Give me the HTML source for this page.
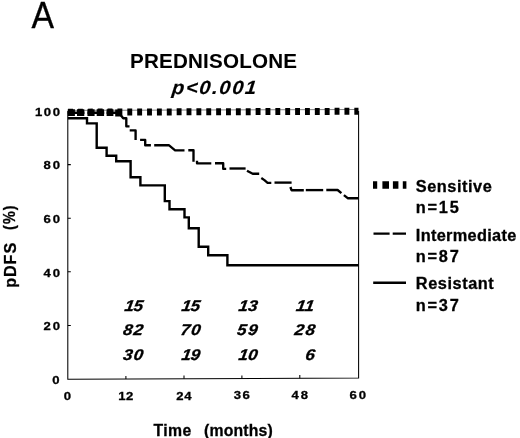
<!DOCTYPE html>
<html><head><meta charset="utf-8">
<style>
html,body{margin:0;padding:0;background:#fff;}
svg{display:block;}
text{font-family:"Liberation Sans",sans-serif;fill:#000;}
.r{font-weight:normal;}
.b{font-weight:bold;}
.bi{font-weight:bold;font-style:italic;}
</style></head><body>
<svg width="520" height="438" viewBox="0 0 520 438">
<rect width="520" height="438" fill="#fff"/>
<defs><filter id="soft" x="0" y="0" width="520" height="438" filterUnits="userSpaceOnUse"><feGaussianBlur stdDeviation="0.45"/></filter></defs>
<g filter="url(#soft)">
<text class="r" transform="translate(31.60 27.80) scale(0.965 1.075)" font-size="35" stroke="#000" stroke-width="0.30">A</text>
<text class="b" transform="translate(130.00 68.30) scale(1.030 1.000)" font-size="20" textLength="162.14" lengthAdjust="spacing" stroke="#000" stroke-width="0.05">PREDNISOLONE</text>
<text class="bi" transform="translate(171.60 94.20) scale(1.180 1.120) skewX(-6)" font-size="17" textLength="71.19" lengthAdjust="spacing" stroke="#000" stroke-width="0.15">p&lt;0.001</text>
</g>
<g fill="none" stroke="#000" stroke-width="1.05">
<path d="M67.8 111 V379.3 L358.6 378.1 V111"/>
<path d="M67.8 164.6 h3 M67.8 218.2 h3 M67.8 271.8 h3 M67.8 325.4 h3"/>
<path d="M125.9 379.1 v-3.2 M184 378.8 v-3.2 M241.9 378.6 v-3.2 M299.8 378.3 v-3.2"/>
</g>
<path d="M67.8 110.4 L358.1 109.5" fill="none" stroke="#000" stroke-width="0.7" opacity="0.7"/>
<g filter="url(#soft)">
<path d="M68.1 112.2 L358.5 111.3" fill="none" stroke="#000" stroke-width="7" stroke-dasharray="4.9 4.97"/>
<g fill="none" stroke="#000" stroke-width="2.35" stroke-linejoin="round" stroke-linecap="butt">
<path d="M67.8 112.8 H84.4 M87.5 112.8 H104.2 M106.6 112.8 H121" stroke-width="2.4" stroke-linecap="butt"/>
<path d="M67.8 112.6 H74.9 M77 112.6 H84.3 M87.5 112.6 H94.6 M96.7 112.6 H104.1 M106.6 112.6 H113.4 M115.2 113 H122" stroke-width="6.8" stroke-linecap="butt"/>
<path d="M119.5 113.5 L123.2 118.2 H126.3 V126.3 H129.5"/>
<path d="M129.7 130.4 H135.6 V140"/>
<path d="M140.1 139.9 H145.2 V145.2 H150.9"/>
<path d="M154.2 145.2 H168.8 L175.1 150.3 H184.5"/>
<path d="M188.3 150.2 H193.5 V161.8"/>
<path d="M197 160.8 V163.3 H211.3"/>
<path d="M215 163.2 H223.2 V168.8 H226.2"/>
<path d="M229.5 168.5 H245.6"/>
<path d="M247 170.7 L252.7 173.7 H259.2"/>
<path d="M261.3 178 L264.4 180.1 L267.6 182.8 H271.3"/>
<path d="M274.5 182.6 H291.6"/>
<path d="M290.4 187 L291.5 190.2 H303.8"/>
<path d="M305.8 190.1 H323.2"/>
<path d="M326.3 190 H337.6 L341.4 193.2"/>
<path d="M343.9 195.1 L347.7 198.2 H358.6"/>
</g>
<path fill="none" stroke="#000" stroke-width="2.4" stroke-linejoin="miter" d="M67.8 118.3 H87 V123.4 H96.7 V147.8 H106.6 V155.8 H116.2 V161.3 H130.6 V177.3 H140.4 V185.4 H164.8 V201.1 H169.5 V209.2 H184.5 V217.4 H188.8 V228.3 H198.7 V246.7 H208.2 V255.3 H227.4 V265.2 H358.6"/>
<text class="b" transform="translate(35.00 115.90) scale(1.140 1.000)" font-size="11.5" textLength="21.93" lengthAdjust="spacing" stroke="#000" stroke-width="0.30">100</text>
<text class="b" transform="translate(43.40 169.40) scale(1.140 1.000)" font-size="11.5" textLength="14.56" lengthAdjust="spacing" stroke="#000" stroke-width="0.30">80</text>
<text class="b" transform="translate(43.40 223.10) scale(1.140 1.000)" font-size="11.5" textLength="14.56" lengthAdjust="spacing" stroke="#000" stroke-width="0.30">60</text>
<text class="b" transform="translate(43.40 276.70) scale(1.140 1.000)" font-size="11.5" textLength="14.56" lengthAdjust="spacing" stroke="#000" stroke-width="0.30">40</text>
<text class="b" transform="translate(43.40 330.30) scale(1.140 1.000)" font-size="11.5" textLength="14.56" lengthAdjust="spacing" stroke="#000" stroke-width="0.30">20</text>
<text class="b" transform="translate(52.30 384.40) scale(1.140 1.000)" font-size="11.5" stroke="#000" stroke-width="0.30">0</text>
<text class="b" transform="translate(63.80 400.20) scale(1.140 1.000)" font-size="11.5" stroke="#000" stroke-width="0.30">0</text>
<text class="b" transform="translate(118.30 400.20) scale(1.140 1.000)" font-size="11.5" textLength="13.16" lengthAdjust="spacing" stroke="#000" stroke-width="0.30">12</text>
<text class="b" transform="translate(176.20 399.90) scale(1.140 1.000)" font-size="11.5" textLength="13.42" lengthAdjust="spacing" stroke="#000" stroke-width="0.30">24</text>
<text class="b" transform="translate(233.80 399.10) scale(1.140 1.000)" font-size="11.5" textLength="14.04" lengthAdjust="spacing" stroke="#000" stroke-width="0.30">36</text>
<text class="b" transform="translate(291.50 398.70) scale(1.140 1.000)" font-size="11.5" textLength="14.47" lengthAdjust="spacing" stroke="#000" stroke-width="0.30">48</text>
<text class="b" transform="translate(349.50 398.70) scale(1.140 1.000)" font-size="11.5" textLength="14.47" lengthAdjust="spacing" stroke="#000" stroke-width="0.30">60</text>
<text class="b" transform="translate(153.40 435.60) scale(0.930 1.000)" font-size="17" textLength="40.65" lengthAdjust="spacing" stroke="#000" stroke-width="0.30">Time</text>
<text class="b" transform="translate(204.00 435.60) scale(0.930 1.000)" font-size="17" textLength="73.98" lengthAdjust="spacing" stroke="#000" stroke-width="0.30">(months)</text>
<g transform="translate(15.9 287.8) rotate(-90)">
<text class="b" transform="translate(0.00 0.00) scale(0.950 1.000)" font-size="17" textLength="47.37" lengthAdjust="spacing" stroke="#000" stroke-width="0.30">pDFS</text>
<text class="b" transform="translate(57.80 -1.20) scale(0.900 1.000)" font-size="16" textLength="27.33" lengthAdjust="spacing" stroke="#000" stroke-width="0.30">(%)</text>
</g>
<text class="bi" transform="translate(124.00 311.10) scale(1.100 1.000) skewX(-8)" font-size="15.5" textLength="16.82" lengthAdjust="spacing" stroke="#000" stroke-width="0.30">15</text>
<text class="bi" transform="translate(122.50 335.20) scale(1.100 1.000) skewX(-8)" font-size="15.5" textLength="18.18" lengthAdjust="spacing" stroke="#000" stroke-width="0.30">82</text>
<text class="bi" transform="translate(122.50 360.20) scale(1.100 1.000) skewX(-8)" font-size="15.5" textLength="18.18" lengthAdjust="spacing" stroke="#000" stroke-width="0.30">30</text>
<text class="bi" transform="translate(181.00 311.10) scale(1.100 1.000) skewX(-8)" font-size="15.5" textLength="16.82" lengthAdjust="spacing" stroke="#000" stroke-width="0.30">15</text>
<text class="bi" transform="translate(180.00 335.20) scale(1.100 1.000) skewX(-8)" font-size="15.5" textLength="18.18" lengthAdjust="spacing" stroke="#000" stroke-width="0.30">70</text>
<text class="bi" transform="translate(181.00 360.20) scale(1.100 1.000) skewX(-8)" font-size="15.5" textLength="16.82" lengthAdjust="spacing" stroke="#000" stroke-width="0.30">19</text>
<text class="bi" transform="translate(238.00 311.10) scale(1.100 1.000) skewX(-8)" font-size="15.5" textLength="17.27" lengthAdjust="spacing" stroke="#000" stroke-width="0.30">13</text>
<text class="bi" transform="translate(236.50 335.20) scale(1.100 1.000) skewX(-8)" font-size="15.5" textLength="18.64" lengthAdjust="spacing" stroke="#000" stroke-width="0.30">59</text>
<text class="bi" transform="translate(238.00 360.20) scale(1.100 1.000) skewX(-8)" font-size="15.5" textLength="17.27" lengthAdjust="spacing" stroke="#000" stroke-width="0.30">10</text>
<text class="bi" transform="translate(295.40 311.10) scale(1.100 1.000) skewX(-8)" font-size="15.5" textLength="16.36" lengthAdjust="spacing" stroke="#000" stroke-width="0.30">11</text>
<text class="bi" transform="translate(294.00 335.20) scale(1.100 1.000) skewX(-8)" font-size="15.5" textLength="18.64" lengthAdjust="spacing" stroke="#000" stroke-width="0.30">28</text>
<text class="bi" transform="translate(304.70 360.20) scale(1.100 1.000) skewX(-8)" font-size="15.5" stroke="#000" stroke-width="0.30">6</text>
<path d="M373 185 H377.2 M382.4 185 H389 M392.9 185 H398.4 M402.8 185 H406.4" fill="none" stroke="#000" stroke-width="7.4"/>
<path d="M373.5 233.7 H389.6 M392.7 233.7 H406" fill="none" stroke="#000" stroke-width="2.3"/>
<path d="M373.2 282.7 H406" fill="none" stroke="#000" stroke-width="2.4"/>
<text class="b" transform="translate(415.80 191.70) scale(1.020 1.000)" font-size="16" textLength="74.51" lengthAdjust="spacing" stroke="#000" stroke-width="0.30">Sensitive</text>
<text class="b" transform="translate(415.80 212.90) scale(1.020 1.000)" font-size="16" textLength="42.16" lengthAdjust="spacing" stroke="#000" stroke-width="0.30">n=15</text>
<text class="b" transform="translate(415.80 240.50) scale(1.020 1.000)" font-size="16" textLength="98.53" lengthAdjust="spacing" stroke="#000" stroke-width="0.30">Intermediate</text>
<text class="b" transform="translate(415.80 261.50) scale(1.020 1.000)" font-size="16" textLength="42.16" lengthAdjust="spacing" stroke="#000" stroke-width="0.30">n=87</text>
<text class="b" transform="translate(415.80 289.40) scale(1.020 1.000)" font-size="16" textLength="76.47" lengthAdjust="spacing" stroke="#000" stroke-width="0.30">Resistant</text>
<text class="b" transform="translate(415.80 311.20) scale(1.020 1.000)" font-size="16" textLength="42.16" lengthAdjust="spacing" stroke="#000" stroke-width="0.30">n=37</text>
</g>
</svg>
</body></html>
